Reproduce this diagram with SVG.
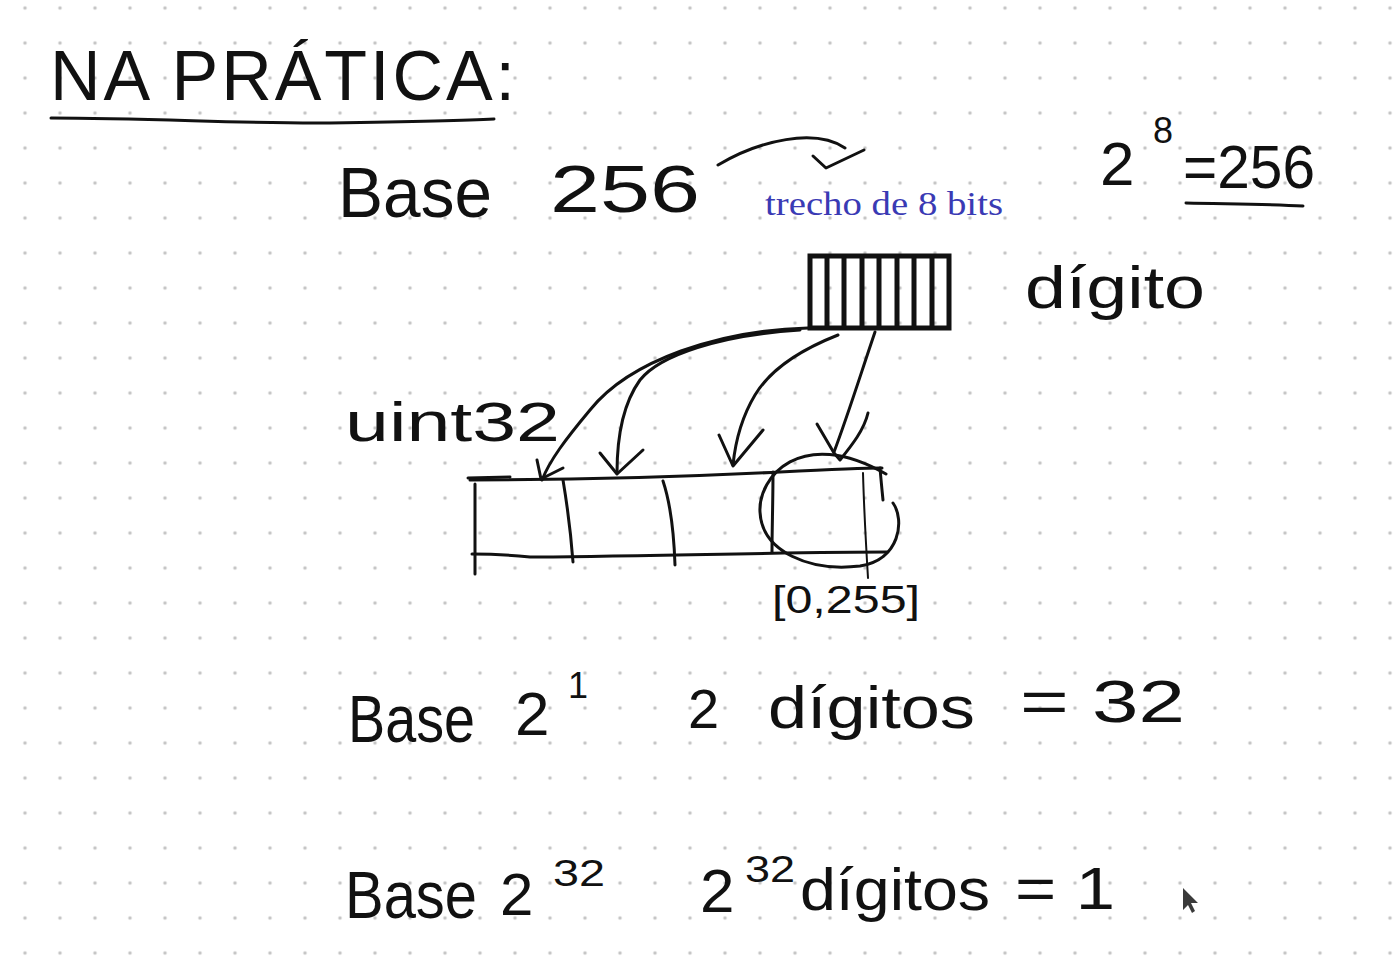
<svg xmlns="http://www.w3.org/2000/svg" width="1400" height="960" viewBox="0 0 1400 960">
  <defs>
    <pattern id="dots" x="7.5" y="-9.5" width="35" height="35" patternUnits="userSpaceOnUse">
      <circle cx="17.5" cy="17.5" r="1.7" fill="#c2c2c2"/>
    </pattern>
    <style>
      .hw { font-family: "Liberation Sans", "DejaVu Sans", sans-serif; fill: #111; }
      .ink { fill: none; stroke: #111; stroke-width: 3; stroke-linecap: round; stroke-linejoin: round; }
      .thin { fill: none; stroke: #111; stroke-width: 2; stroke-linecap: round; }
      .blue { font-family: "Liberation Serif", "DejaVu Serif", serif; fill: #3a3ab4; }
    </style>
  </defs>
  <rect width="1400" height="960" fill="#ffffff"/>
  <rect width="1400" height="960" fill="url(#dots)"/>

  <g id="title">
    <text class="hw" x="50" y="100" font-size="70" textLength="465" lengthAdjust="spacing">NA PRÁTICA:</text>
    <path class="ink" stroke-width="3.5" d="M51,118 C150,118 250,124 330,123 C400,122 460,121 494,119"/>
  </g>

  <g id="base256">
    <text class="hw" x="338" y="217" font-size="70" textLength="154" lengthAdjust="spacingAndGlyphs">Base</text>
    <text class="hw" x="550" y="212" font-size="66" textLength="150" lengthAdjust="spacingAndGlyphs">256</text>
  </g>

  <g id="trecho-label">
    <text class="blue" x="765" y="215" font-size="33" textLength="238" lengthAdjust="spacingAndGlyphs">trecho de 8 bits</text>
  </g>

  <g id="power">
    <text class="hw" x="1100" y="185" font-size="62">2</text>
    <text class="hw" x="1153" y="143" font-size="36">8</text>
    <text class="hw" x="1183" y="188" font-size="62" textLength="132" lengthAdjust="spacingAndGlyphs">=256</text>
    <path class="ink" d="M1186,203 C1230,204 1270,204 1303,206"/>
  </g>

  <g id="digit-box">
    <rect x="810" y="256" width="139" height="72" fill="none" stroke="#111" stroke-width="5"/>
    <path fill="none" stroke="#111" stroke-width="5" d="M827,256 V328 M844,256 V328 M862,256 V328 M879,256 V328 M897,256 V328 M914,256 V328 M932,256 V328"/>
  </g>

  <g id="digito-label">
    <text class="hw" x="1025" y="308" font-size="60" textLength="180" lengthAdjust="spacingAndGlyphs">dígito</text>
  </g>

  <g id="uint32-label">
    <text class="hw" x="345" y="441" font-size="56" textLength="215" lengthAdjust="spacingAndGlyphs">uint32</text>
  </g>

  <g id="uint32-box">
    <path class="ink" d="M468,478 L510,477"/>
    <path class="ink" d="M470,480 C600,480 700,476 780,472 C820,470 860,468 882,468"/>
    <path class="ink" d="M472,554 C500,554 520,556 530,557 C650,556 800,552 887,552"/>
    <path class="ink" d="M475,484 V574"/>
    <path class="ink" d="M563,480 C568,510 571,535 573,562"/>
    <path class="ink" d="M663,481 C671,505 674,535 675,565"/>
    <path class="ink" d="M773,472 C773,500 772,530 772,552"/>
    <path class="thin" d="M863,473 C864,510 866,545 868,578"/>
    <path class="ink" d="M880,468 C881,480 882,490 883,500"/>
    <path class="ink" d="M886,474 C800,425 758,478 760,512 C762,552 810,572 860,566 C900,560 905,520 893,503"/>
  </g>

  <g id="range-label">
    <text class="hw" x="772" y="613" font-size="38" textLength="148" lengthAdjust="spacingAndGlyphs">[0,255]</text>
  </g>

  <g id="base2-line">
    <text class="hw" x="348" y="742" font-size="66" textLength="127" lengthAdjust="spacingAndGlyphs">Base</text>
    <text class="hw" x="515" y="735" font-size="62">2</text>
    <text class="hw" x="568" y="698" font-size="36">1</text>
    <text class="hw" x="688" y="728" font-size="56">2</text>
    <text class="hw" x="768" y="728" font-size="60" textLength="207" lengthAdjust="spacingAndGlyphs">dígitos</text>
    <text class="hw" x="1020" y="722" font-size="60" textLength="165" lengthAdjust="spacingAndGlyphs">= 32</text>
  </g>

  <g id="base2-32-line">
    <text class="hw" x="345" y="918" font-size="66" textLength="132" lengthAdjust="spacingAndGlyphs">Base</text>
    <text class="hw" x="500" y="915" font-size="60">2</text>
    <text class="hw" x="553" y="886" font-size="36" textLength="52" lengthAdjust="spacingAndGlyphs">32</text>
    <text class="hw" x="700" y="912" font-size="62">2</text>
    <text class="hw" x="745" y="882" font-size="36" textLength="50" lengthAdjust="spacingAndGlyphs">32</text>
    <text class="hw" x="800" y="910" font-size="60" textLength="190" lengthAdjust="spacingAndGlyphs">dígitos</text>
    <text class="hw" x="1015" y="909" font-size="60" textLength="100" lengthAdjust="spacingAndGlyphs">= 1</text>
  </g>

  <g id="cursor">
    <path d="M1183,888 L1183,910 L1188,905 L1192,913 L1195,911 L1191,903 L1198,903 Z" fill="#3a3a3a"/>
  </g>

  <g id="connectors">
    <path class="ink" d="M718,165 C760,140 815,128 845,148"/>
    <path class="ink" d="M813,156 L826,168 L864,150"/>

    <path class="ink" d="M808,328 C720,330 630,360 590,410 C565,440 550,460 542,480"/>
    <path class="ink" d="M537,460 L541,479 L563,468"/>

    <path class="ink" d="M800,330 C720,335 660,355 640,380 C622,405 617,440 617,473"/>
    <path class="ink" d="M600,453 L617,474 L643,450"/>

    <path class="ink" d="M838,335 C800,350 770,370 755,395 C740,420 735,445 733,465"/>
    <path class="ink" d="M719,435 L733,466 L763,430"/>

    <path class="ink" d="M875,332 C862,370 848,415 834,452"/>
    <path class="ink" d="M817,424 L834,453 L840,460 C852,445 864,430 868,413"/>
  </g>
</svg>
